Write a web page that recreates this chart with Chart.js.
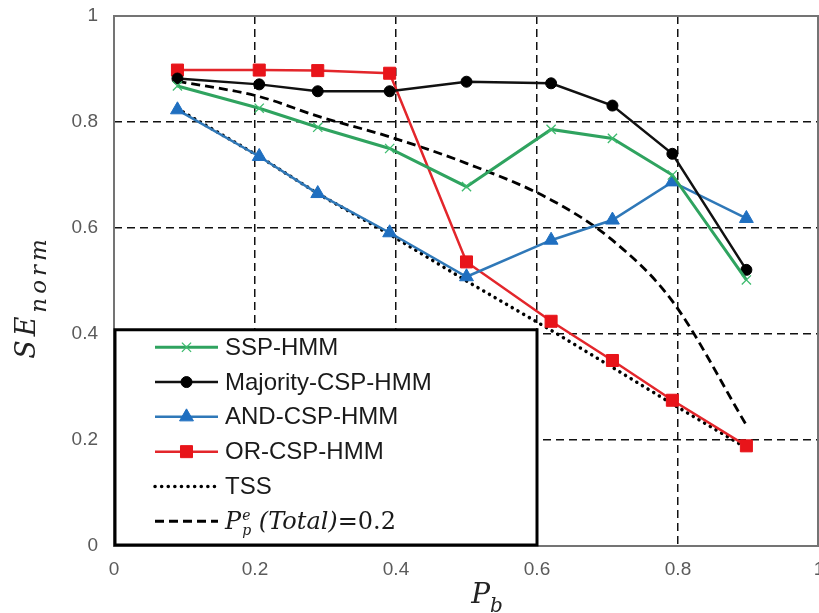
<!DOCTYPE html>
<html>
<head>
<meta charset="utf-8">
<script src="https://cdn.jsdelivr.net/npm/chart.js@4.4.1/dist/chart.umd.min.js"></script>
<style>
  html, body { margin: 0; padding: 0; background: #fff; overflow: hidden; }
  #wrap { width: 819px; height: 613px; }
  canvas { display: block; }
</style>
</head>
<body>
<div id="wrap"><canvas id="seChart" width="819" height="613"></canvas></div>
<script>
/* Values */

const pbValues = [0.09, 0.206, 0.289, 0.391, 0.5, 0.62, 0.707, 0.792, 0.897];
const sspHmm = [0.868, 0.826, 0.790, 0.750, 0.678, 0.786, 0.769, 0.700, 0.502];
const majorityCspHmm = [0.882, 0.871, 0.858, 0.858, 0.876, 0.873, 0.831, 0.740, 0.521];
const andCspHmm = [0.823, 0.735, 0.665, 0.591, 0.508, 0.577, 0.615, 0.687, 0.618];
const orCspHmm = [0.898, 0.898, 0.897, 0.892, 0.536, 0.424, 0.350, 0.275, 0.189];
const tssValues = [0.825, 0.735, 0.665, 0.588, 0.500, 0.407, 0.337, 0.268, 0.185];
const ppeTotalValues = [0.877, 0.848, 0.811, 0.772, 0.722, 0.653, 0.577, 0.462, 0.228];

const seriesLabels = ["SSP-HMM", "Majority-CSP-HMM", "AND-CSP-HMM", "OR-CSP-HMM", "TSS", "Pp^e (Total)=0.2"];
const axisTicks = [0, 0.2, 0.4, 0.6, 0.8, 1];

const toPoints = values => values.map((v, i) => ({ x: pbValues[i], y: v }));

/* Helpers for the math-style text */

function richWidth(ctx, parts) {
    let w = 0;
    parts.forEach(p => {
        ctx.font = p.font;
        ctx.letterSpacing = (p.spacing || 0) + "px";
        w += ctx.measureText(p.text).width;
    });
    ctx.letterSpacing = "0px";
    return w;
}

function drawRich(ctx, parts, x, y) {
    let cx = x;
    parts.forEach(p => {
        ctx.font = p.font;
        ctx.letterSpacing = (p.spacing || 0) + "px";
        ctx.fillText(p.text, cx, y + (p.dy || 0));
        cx += ctx.measureText(p.text).width;
    });
    ctx.letterSpacing = "0px";
}

/* Plot frame, axis titles and the boxed legend */

const framePlugin = {
    id: "frame",
    afterDatasetsDraw(chart) {
        const { ctx, chartArea: a } = chart;
        ctx.save();
        ctx.strokeStyle = "#747474";
        ctx.lineWidth = 2;
        ctx.setLineDash([]);
        ctx.strokeRect(a.left, a.top, a.right - a.left - 1, a.bottom - a.top);
        ctx.restore();
    }
};

const titlesPlugin = {
    id: "titles",
    afterDraw(chart) {
        const { ctx } = chart;
        ctx.save();
        ctx.fillStyle = "#222";
        ctx.textBaseline = "alphabetic";
        ctx.textAlign = "left";

        // y title: SE_norm
        const yParts = [
            { text: "SE", font: "italic 27px 'DejaVu Serif'", spacing: 4 },
            { text: "norm", font: "italic 23px 'DejaVu Serif'", spacing: 4, dy: 11 }
        ];
        const yw = richWidth(ctx, yParts);
        ctx.translate(35, 297);
        ctx.rotate(-Math.PI / 2);
        drawRich(ctx, yParts, -yw / 2, 0);
        ctx.setTransform(1, 0, 0, 1, 0, 0);

        // x title: P_b
        const xParts = [
            { text: "P", font: "italic 28px 'DejaVu Serif'" },
            { text: "b", font: "italic 20px 'DejaVu Serif'", dy: 9 }
        ];
        const xw = richWidth(ctx, xParts);
        drawRich(ctx, xParts, 487 - xw / 2, 603);
        ctx.restore();
    }
};

const boxLegendPlugin = {
    id: "boxLegend",
    afterDraw(chart) {
        const { ctx, chartArea: a, scales } = chart;
        const left = a.left;
        const right = scales.x.getPixelForValue(0.6);
        const top = scales.y.getPixelForValue(0.408);
        const bottom = a.bottom;

        ctx.save();
        ctx.fillStyle = "#fff";
        ctx.fillRect(left, top, right - left, bottom - top);
        ctx.strokeStyle = "#000";
        ctx.lineWidth = 3;
        ctx.strokeRect(left + 1, top, right - left - 1, bottom - top - 1);

        chart.data.datasets.forEach((ds, i) => {
            const y = top + 17.5 + i * 34.8;
            const x1 = left + 41;
            const x2 = left + 104;

            ctx.save();
            ctx.strokeStyle = ds.borderColor;
            ctx.lineWidth = ds.borderWidth;
            ctx.lineCap = ds.borderCapStyle || "butt";
            ctx.setLineDash(ds.borderDash || []);
            ctx.beginPath();
            ctx.moveTo(x1, y);
            ctx.lineTo(x2, y);
            ctx.stroke();
            ctx.restore();

            if (ds.pointRadius > 0) {
                ctx.save();
                ctx.fillStyle = ds.pointBackgroundColor;
                ctx.strokeStyle = ds.pointBorderColor;
                ctx.lineWidth = ds.pointBorderWidth;
                Chart.helpers.drawPoint(ctx, {
                    pointStyle: ds.pointStyle,
                    radius: ds.pointRadius,
                    borderWidth: ds.pointBorderWidth,
                    rotation: 0
                }, (x1 + x2) / 2, y);
                ctx.restore();
            }

            ctx.fillStyle = "#1a1a1a";
            ctx.textAlign = "left";
            if (i < 5) {
                ctx.font = "24px 'Liberation Sans'";
                ctx.textBaseline = "middle";
                ctx.fillText(ds.label, left + 111, y + 1);
            } else {
                // P_p^e (Total)=0.2
                ctx.textBaseline = "alphabetic";
                const bx = left + 111;
                const by = y + 8;
                ctx.font = "italic 24px 'DejaVu Serif'";
                ctx.fillText("P", bx, by);
                const pw = ctx.measureText("P").width;
                ctx.font = "italic 14px 'DejaVu Serif'";
                ctx.fillText("p", bx + pw + 1, by + 6);
                ctx.fillText("e", bx + pw + 1, by - 9);
                drawRich(ctx, [
                    { text: " (Total)", font: "italic 24px 'DejaVu Serif'" },
                    { text: "=0.2", font: "24px 'DejaVu Serif'" }
                ], bx + pw + 10, by);
            }
        });
        ctx.restore();
    }
};

/* Chart */

const tickLabel = v => String(Math.round(v * 10) / 10);
const gridColor = c => {
    const v = c.tick ? c.tick.value : null;
    return (v === null || v <= 0.001 || v >= 0.999) ? "rgba(0,0,0,0)" : "#111";
};

new Chart(document.querySelector("#seChart"), {
    type: "line",
    data: {
        datasets: [
            {
                label: seriesLabels[0],
                data: toPoints(sspHmm),
                borderColor: "#2fa35f",
                borderWidth: 3,
                pointStyle: "crossRot",
                pointRadius: 6.5,
                pointBorderWidth: 1.3,
                pointBorderColor: "#3dbb6e",
                pointBackgroundColor: "#3dbb6e"
            },
            {
                label: seriesLabels[1],
                data: toPoints(majorityCspHmm),
                borderColor: "#111",
                borderWidth: 2.5,
                pointStyle: "circle",
                pointRadius: 5.5,
                pointBorderWidth: 1,
                pointBorderColor: "#000",
                pointBackgroundColor: "#000"
            },
            {
                label: seriesLabels[2],
                data: toPoints(andCspHmm),
                borderColor: "#2f78b8",
                borderWidth: 2.5,
                pointStyle: "triangle",
                pointRadius: 8,
                pointBorderWidth: 1,
                pointBorderColor: "#1f6fc0",
                pointBackgroundColor: "#1f6fc0"
            },
            {
                label: seriesLabels[3],
                data: toPoints(orCspHmm),
                borderColor: "#e3262b",
                borderWidth: 2.5,
                pointStyle: "rect",
                pointRadius: 8.5,
                pointBorderWidth: 1,
                pointBorderColor: "#e8141a",
                pointBackgroundColor: "#e8141a"
            },
            {
                label: seriesLabels[4],
                data: toPoints(tssValues),
                borderColor: "#000",
                borderWidth: 3.5,
                borderDash: [0.1, 6.5],
                borderCapStyle: "round",
                pointRadius: 0
            },
            {
                label: seriesLabels[5],
                data: toPoints(ppeTotalValues),
                borderColor: "#000",
                borderWidth: 2.8,
                borderDash: [9, 5],
                cubicInterpolationMode: "monotone",
                pointRadius: 0
            }
        ]
    },
    options: {
        responsive: false,
        animation: false,
        layout: {
            autoPadding: false,
            padding: { top: 16, left: 0, right: 0, bottom: 0 }
        },
        plugins: {
            legend: { display: false },
            tooltip: { enabled: false }
        },
        scales: {
            x: {
                type: "linear",
                min: axisTicks[0],
                max: axisTicks[axisTicks.length - 1],
                afterFit(scale) {
                    scale.height = 67;
                    scale.paddingLeft = 0;
                    scale.paddingRight = 0;
                },
                afterBuildTicks(scale) { scale.ticks = axisTicks.map(v => ({ value: v })); },
                ticks: {
                    padding: 12,
                    color: "#5a5a5a",
                    font: { family: "Liberation Sans", size: 19 },
                    callback: tickLabel
                },
                grid: { color: gridColor, lineWidth: 1.5, drawTicks: false },
                border: { display: false, dash: [8, 5] }
            },
            y: {
                min: axisTicks[0],
                max: axisTicks[axisTicks.length - 1],
                afterFit(scale) {
                    scale.width = 114;
                    scale.paddingTop = 0;
                    scale.paddingBottom = 0;
                },
                afterBuildTicks(scale) { scale.ticks = axisTicks.map(v => ({ value: v })); },
                ticks: {
                    padding: 16,
                    color: "#5a5a5a",
                    font: { family: "Liberation Sans", size: 19 },
                    callback: tickLabel
                },
                grid: { color: gridColor, lineWidth: 1.5, drawTicks: false },
                border: { display: false, dash: [8, 5] }
            }
        }
    },
    plugins: [framePlugin, titlesPlugin, boxLegendPlugin]
});
</script>
</body>
</html>
